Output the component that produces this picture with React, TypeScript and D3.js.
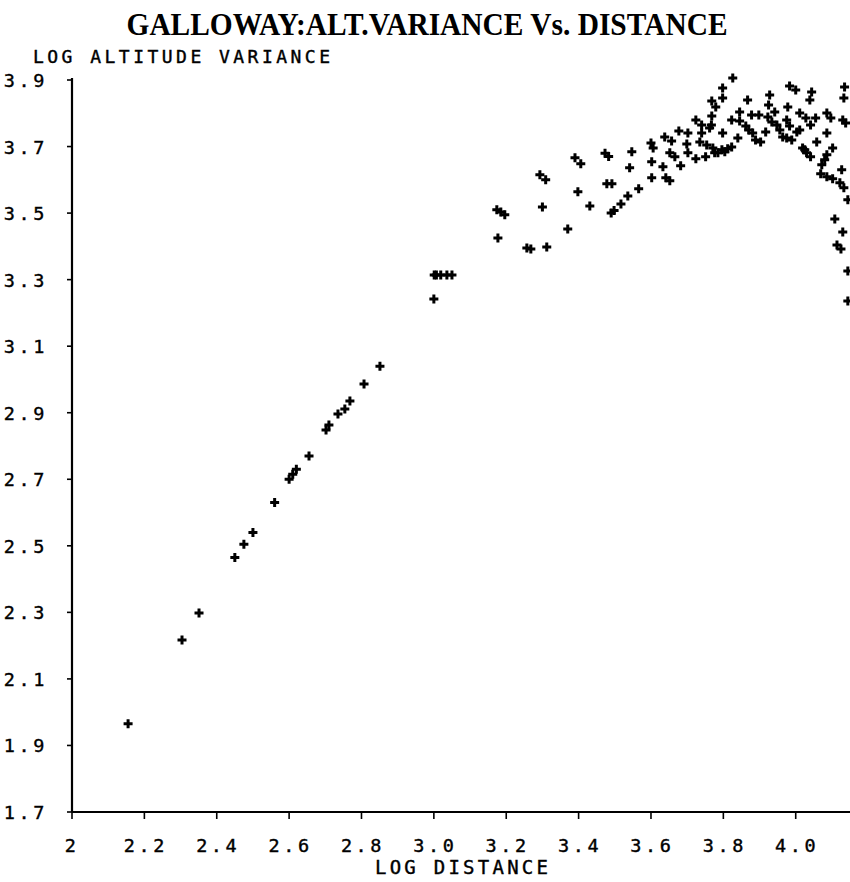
import * as d3 from "d3";

// lower diagonal run of points
const diagDistance = [
  2.155, 2.304, 2.351, 2.45, 2.475, 2.5, 2.56, 2.6, 2.61, 2.62, 2.655,
  2.702, 2.71, 2.735, 2.754, 2.768, 2.807, 2.851,
];
const diagVariance = [
  1.965, 2.217, 2.298, 2.465, 2.505, 2.54, 2.63, 2.7, 2.715, 2.73, 2.77,
  2.848, 2.863, 2.896, 2.911, 2.935, 2.986, 3.04,
];

// points between 3.0 and 3.6
const midDistance = [
  3.0, 3.001, 3.007, 3.019, 3.036, 3.05,
  3.174, 3.185, 3.196, 3.177, 3.257, 3.268, 3.312, 3.293, 3.309, 3.3,
  3.37, 3.39, 3.406, 3.398, 3.431, 3.473, 3.483, 3.478, 3.492, 3.49, 3.498,
  3.517, 3.536, 3.541, 3.547, 3.566,
];
const midVariance = [
  3.242, 3.314, 3.314, 3.314, 3.314, 3.314,
  3.51, 3.503, 3.495, 3.425, 3.395, 3.392, 3.398, 3.615, 3.6, 3.518,
  3.452, 3.666, 3.648, 3.564, 3.521, 3.68, 3.67, 3.588, 3.588, 3.5, 3.508,
  3.527, 3.551, 3.636, 3.684, 3.573,
];

// dense cluster past 3.6
const farDistance = [
  3.6, 3.606, 3.602, 3.602, 3.633, 3.638, 3.657, 3.652, 3.641, 3.652,
  3.666, 3.682, 3.677, 3.702, 3.699, 3.702, 3.724, 3.724, 3.74, 3.74,
  3.735, 3.751, 3.754, 3.762, 3.768, 3.768, 3.779, 3.771, 3.776, 3.785,
  3.767, 3.798, 3.796, 3.798, 3.798, 3.804, 3.812, 3.823, 3.823, 3.826,
  3.84, 3.845, 3.845, 3.862, 3.867, 3.87, 3.878, 3.881, 3.889, 3.898,
  3.903, 3.917, 3.923, 3.925, 3.928, 3.934, 3.942, 3.948, 3.956, 3.964,
  3.975, 3.978, 3.975, 3.983, 3.989, 3.983, 4.0, 4.003, 4.011, 4.011,
  4.019, 4.025, 4.03, 4.028, 4.041, 4.044, 4.039, 4.041, 4.055, 4.058,
  4.072, 4.08, 4.086, 4.069, 4.086, 4.086, 4.086, 4.097, 4.102, 4.102,
  4.122, 4.133, 4.127, 4.13, 4.138, 4.135, 4.133, 4.144, 4.108, 4.13,
  4.114, 4.125, 4.144, 4.144,
];
const farVariance = [
  3.711, 3.696, 3.654, 3.606, 3.639, 3.729, 3.717, 3.681, 3.606, 3.597,
  3.669, 3.642, 3.747, 3.741, 3.708, 3.681, 3.663, 3.78, 3.765, 3.741,
  3.714, 3.669, 3.705, 3.756, 3.792, 3.837, 3.819, 3.696, 3.681, 3.681,
  3.765, 3.741, 3.69, 3.876, 3.846, 3.684, 3.693, 3.78, 3.699, 3.906,
  3.726, 3.804, 3.777, 3.762, 3.84, 3.75, 3.795, 3.741, 3.72, 3.795,
  3.714, 3.744, 3.789, 3.825, 3.855, 3.774, 3.804, 3.765, 3.75, 3.729,
  3.726, 3.819, 3.78, 3.762, 3.72, 3.882, 3.87, 3.744, 3.801, 3.75,
  3.696, 3.69, 3.681, 3.786, 3.765, 3.864, 3.84, 3.669, 3.786, 3.714,
  3.645, 3.66, 3.675, 3.618, 3.609, 3.741, 3.801, 3.786, 3.603, 3.696,
  3.591, 3.576, 3.63, 3.78, 3.771, 3.879, 3.846, 3.54, 3.482, 3.443,
  3.404, 3.392, 3.326, 3.236,
];

const xTicks = [2, 2.2, 2.4, 2.6, 2.8, 3.0, 3.2, 3.4, 3.6, 3.8, 4.0];
const xTickLabels = ["2", "2.2", "2.4", "2.6", "2.8", "3.0", "3.2", "3.4", "3.6", "3.8", "4.0"];
const yTicks = [1.7, 1.9, 2.1, 2.3, 2.5, 2.7, 2.9, 3.1, 3.3, 3.5, 3.7, 3.9];
const yTickLabels = ["1.7", "1.9", "2.1", "2.3", "2.5", "2.7", "2.9", "3.1", "3.3", "3.5", "3.7", "3.9"];

const W = 850;
const H = 882;
const plotFont = "'DejaVu Sans Mono', monospace";

export default function App() {
  const x = d3.scaleLinear().domain([2, 4.15]).range([72, 850]);
  const y = d3.scaleLinear().domain([1.7, 3.9]).range([812, 80]);

  const points = [
    ...diagDistance.map((d, i) => [d, diagVariance[i]]),
    ...midDistance.map((d, i) => [d, midVariance[i]]),
    ...farDistance.map((d, i) => [d, farVariance[i]]),
  ];

  return (
    <svg
      width={W}
      height={H}
      style={{ position: "absolute", left: 0, top: 0, background: "#fff" }}
    >
      <text
        x={427}
        y={35}
        textAnchor="middle"
        fontFamily="'Liberation Serif', serif"
        fontWeight="bold"
        fontSize={32}
        textLength={601}
        lengthAdjust="spacingAndGlyphs"
      >
        GALLOWAY:ALT.VARIANCE Vs. DISTANCE
      </text>
      <text x={33} y={63} fontFamily={plotFont} fontSize={18} textLength={297}
        lengthAdjust="spacing" stroke="#000" strokeWidth={0.4}>
        LOG ALTITUDE VARIANCE
      </text>

      {/* axes */}
      <line x1={x(2)} x2={W} y1={y(1.7)} y2={y(1.7)} stroke="#000" strokeWidth={2.2} />
      <line x1={x(2)} x2={x(2)} y1={y(1.7)} y2={y(3.9) - 2} stroke="#000" strokeWidth={2.2} />

      {yTicks.map((t, i) => (
        <g key={"y" + i}>
          <line x1={x(2) - 5} x2={x(2)} y1={y(t)} y2={y(t)} stroke="#000" strokeWidth={1.6} />
          <text
            x={48}
            y={y(t) + 7}
            textAnchor="end"
            fontFamily={plotFont}
            fontSize={18.5}
            letterSpacing={3.6}
            stroke="#000"
            strokeWidth={0.4}
          >
            {yTickLabels[i]}
          </text>
        </g>
      ))}

      {xTicks.map((t, i) => (
        <g key={"x" + i}>
          <line x1={x(t)} x2={x(t)} y1={y(1.7)} y2={y(1.7) + 7} stroke="#000" strokeWidth={1.6} />
          <text
            x={x(t) + (xTickLabels[i].length > 1 ? 1.5 : 0)}
            y={852}
            textAnchor="middle"
            fontFamily={plotFont}
            fontSize={18.5}
            letterSpacing={3.6}
            stroke="#000"
            strokeWidth={0.4}
          >
            {xTickLabels[i]}
          </text>
        </g>
      ))}

      <text x={375} y={874} fontFamily={plotFont} fontSize={19} textLength={173}
        lengthAdjust="spacing" stroke="#000" strokeWidth={0.4}>
        LOG DISTANCE
      </text>

      {/* plus markers */}
      {points.map(([d, v], i) => (
        <path
          key={"p" + i}
          d="M-4.5,0H4.5M0,-4.5V4.5"
          transform={`translate(${x(d)},${y(v)})`}
          stroke="#000"
          strokeWidth={3}
          fill="none"
        />
      ))}
    </svg>
  );
}
